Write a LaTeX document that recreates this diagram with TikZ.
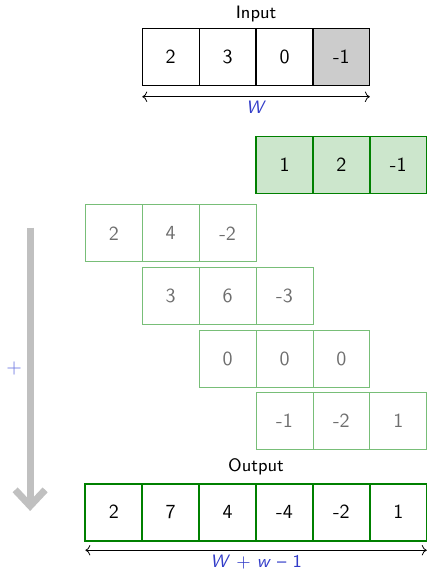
\documentclass[tikz,border=0pt]{standalone}
\usetikzlibrary{arrows.meta}
\renewcommand{\familydefault}{\sfdefault}
\definecolor{dkgreen}{RGB}{0,128,0}
\definecolor{kfill}{RGB}{204,230,204}
\definecolor{pgreen}{RGB}{120,190,120}
\definecolor{ptext}{RGB}{110,110,110}
\definecolor{lblue}{RGB}{50,60,200}
\definecolor{pblue}{RGB}{110,120,225}
\definecolor{arrgray}{RGB}{192,192,192}
\definecolor{infill}{RGB}{204,204,204}
\newcommand{\slW}{\textit{W}}
\newcommand{\slw}{\textit{w}}
\begin{document}
\begin{tikzpicture}[y=-1cm,
  cell/.style={draw, minimum size=1cm, inner sep=0pt, outer sep=0pt, anchor=center},
  incell/.style={cell, draw=black, semithick},
  kcell/.style={cell, draw=dkgreen, fill=kfill, line width=0.9pt},
  pcell/.style={cell, draw=pgreen, thin, text=ptext},
  ocell/.style={cell, draw=dkgreen, line width=1pt},
  title/.style={font=\small},
  dimlabel/.style={text=lblue, font=\small},
  dim/.style={{To}-{To}, thin}
]
\useasboundingbox (0,0) rectangle (7.5,10);
% input
\node[incell] (i1) at (3,1) {2};
\node[incell] (i2) at (4,1) {3};
\node[incell] (i3) at (5,1) {0};
\node[incell, fill=infill] (i4) at (6,1) {-1};
\node[title] (intitle) at (4.5,0.25) {Input};
\coordinate (iL) at (2.5,1.7);
\coordinate (iR) at (6.5,1.7);
\draw[dim] (iL) -- (iR);
\node[dimlabel] (iW) at (4.5,1.88) {\slW};
% kernel
\node[kcell] (k1) at (5,2.9) {1};
\node[kcell] (k2) at (6,2.9) {2};
\node[kcell] (k3) at (7,2.9) {-1};
% partial rows
\node[pcell] (a1) at (2,4.1) {2};
\node[pcell] (a2) at (3,4.1) {4};
\node[pcell] (a3) at (4,4.1) {-2};
\node[pcell] (b1) at (3,5.2) {3};
\node[pcell] (b2) at (4,5.2) {6};
\node[pcell] (b3) at (5,5.2) {-3};
\node[pcell] (c1) at (4,6.3) {0};
\node[pcell] (c2) at (5,6.3) {0};
\node[pcell] (c3) at (6,6.3) {0};
\node[pcell] (d1) at (5,7.4) {-1};
\node[pcell] (d2) at (6,7.4) {-2};
\node[pcell] (d3) at (7,7.4) {1};
% output
\node[ocell] (o1) at (2,9) {2};
\node[ocell] (o2) at (3,9) {7};
\node[ocell] (o3) at (4,9) {4};
\node[ocell] (o4) at (5,9) {-4};
\node[ocell] (o5) at (6,9) {-2};
\node[ocell] (o6) at (7,9) {1};
\node[title] (outtitle) at (4.5,8.21) {Output};
\coordinate (oL) at (1.5,9.67);
\coordinate (oR) at (7.5,9.67);
\draw[dim] (oL) -- (oR);
\node[dimlabel] (oW) at (4.5,9.88) {\slW\ + \slw\ -- 1};
% sum arrow
\coordinate (sTop) at (0.53,4.0);
\coordinate (sBot) at (0.53,8.98);
\draw[arrgray, line width=3.5pt, -{Straight Barb[length=8pt,width=15pt]}] (sTop) -- (sBot);
\node[text=pblue] (plus) at (0.25,6.47) {+};
\end{tikzpicture}
\end{document}
